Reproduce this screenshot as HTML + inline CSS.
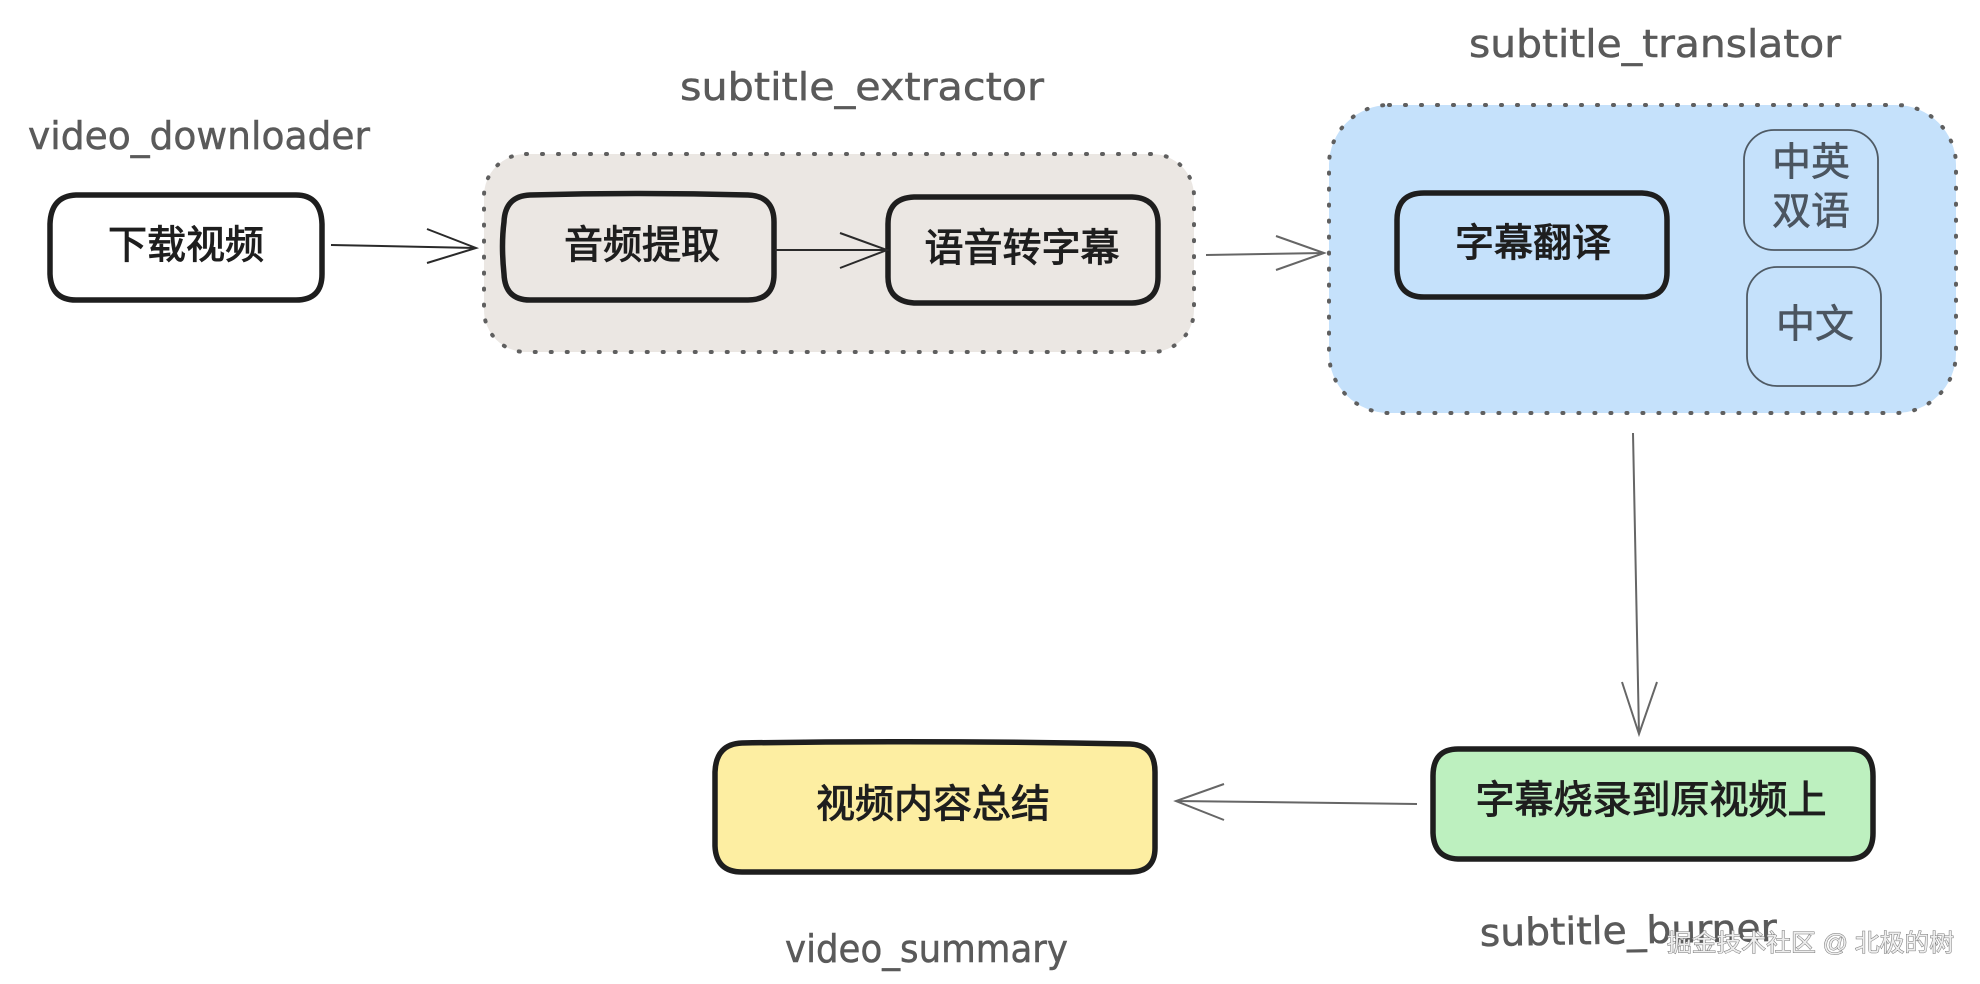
<!DOCTYPE html>
<html><head><meta charset="utf-8"><style>
html,body{margin:0;padding:0;background:#fff;width:1980px;height:984px;overflow:hidden}
svg{display:block}
.c{font-family:"Liberation Sans","WenQuanYi Zen Hei","Noto Sans CJK SC",sans-serif;font-size:39px;fill:#1e1e1e;stroke:#1e1e1e;stroke-width:1;text-anchor:middle;dominant-baseline:central}
.g{fill:#4b5560;stroke:#4b5560;stroke-width:.6}
.l{font-family:"DejaVu Sans","Liberation Sans",sans-serif;font-size:38px;fill:#5a5a5a;stroke:#5a5a5a;stroke-width:.5}
.b{stroke:#1e1e1e;stroke-width:5.5;stroke-linejoin:round}
.d{stroke:#5f5f5f;stroke-width:4;stroke-linecap:round;stroke-dasharray:1 15}
.a{fill:none;stroke:#2a2a2a;stroke-width:2}
.a2{fill:none;stroke:#666;stroke-width:2}
</style></head><body>
<svg xmlns="http://www.w3.org/2000/svg" width="1980" height="984" viewBox="0 0 1980 984">
<rect width="1980" height="984" fill="#fff"/>
<rect class="d" x="484" y="154" width="710" height="198" rx="42" fill="#ebe7e3"/>
<rect class="d" x="1329" y="105" width="627" height="308" rx="60" fill="#c5e1fb"/>

<path class="b" style="fill:#fff" d="M76 195 H296 Q321 195 322 224 V274 Q322 300 296 300 H76 Q51 300 50 274 V224 Q51 196 76 195Z"/>
<path class="b" style="fill:none" d="M530 195 Q640 192 748 195 Q774 196 774 222 V274 Q774 300 748 300 H530 Q505 300 504 274 Q501 245 504 222 Q505 196 530 195Z"/>
<path class="b" style="fill:none" d="M914 197 H1132 Q1158 198 1158 224 V277 Q1158 302 1132 303 H914 Q888 301 888 277 V224 Q888 198 914 197Z"/>
<path class="b" style="fill:none" d="M1424 193 H1642 Q1667 194 1667 220 V272 Q1667 297 1642 297 H1424 Q1398 297 1397 270 V220 Q1397 193 1424 193Z"/>
<rect x="1744" y="130" width="134" height="120" rx="30" fill="none" stroke="#4f5a64" stroke-width="1.8"/>
<rect x="1747" y="267" width="134" height="119" rx="30" fill="none" stroke="#4f5a64" stroke-width="1.8"/>
<path class="b" style="fill:#bdf0bf" d="M1458 749 H1850 Q1873 749 1873 776 V833 Q1873 858 1850 859 H1458 Q1434 858 1433 833 V776 Q1433 749 1458 749Z"/>
<path class="b" style="fill:#fdeea2" d="M742 743 Q930 740 1130 744 Q1155 745 1155 772 V848 Q1155 872 1130 872 H742 Q716 872 715 846 V772 Q716 744 742 743Z"/>

<text class="c" x="186" y="246">下载视频</text>
<text class="c" x="642" y="246">音频提取</text>
<text class="c" x="1022" y="249">语音转字幕</text>
<text class="c" x="1533" y="244">字幕翻译</text>
<text class="c g" x="1811" y="163">中英</text>
<text class="c g" x="1811" y="212">双语</text>
<text class="c g" x="1815" y="325">中文</text>
<text class="c" x="1651" y="801">字幕烧录到原视频上</text>
<text class="c" x="933" y="805">视频内容总结</text>

<text class="l" x="28" y="149" textLength="342" lengthAdjust="spacingAndGlyphs">video_downloader</text>
<text class="l" x="680" y="100" textLength="364" lengthAdjust="spacingAndGlyphs">subtitle_extractor</text>
<text class="l" x="1469" y="57" textLength="372" lengthAdjust="spacingAndGlyphs">subtitle_translator</text>
<text class="l" x="1480" y="946" textLength="297" lengthAdjust="spacingAndGlyphs" transform="rotate(-1 1480 946)">subtitle_burner</text>
<text class="l" x="785" y="962" textLength="283" lengthAdjust="spacingAndGlyphs">video_summary</text>

<path class="a" d="M331 245 L476 248 M427 229 L476 248 L427 263"/>
<path class="a" d="M775 250 L887 250 M840 233 L887 250 L840 268"/>
<path class="a2" d="M1206 255 L1324 253 M1276 236 L1324 253 L1276 270"/>
<path class="a2" d="M1633 433 L1639 734 M1622 682 L1639 734 L1657 682"/>
<path class="a2" d="M1417 804 L1176 801 M1224 784 L1176 801 L1224 820"/>

<text x="1667" y="951" textLength="287" lengthAdjust="spacingAndGlyphs" style="font-family:'Liberation Sans','Noto Sans CJK SC',sans-serif;font-size:24px;fill:#eee;stroke:#777;stroke-width:1;paint-order:stroke">掘金技术社区 @ 北极的树</text>
</svg>
</body></html>
